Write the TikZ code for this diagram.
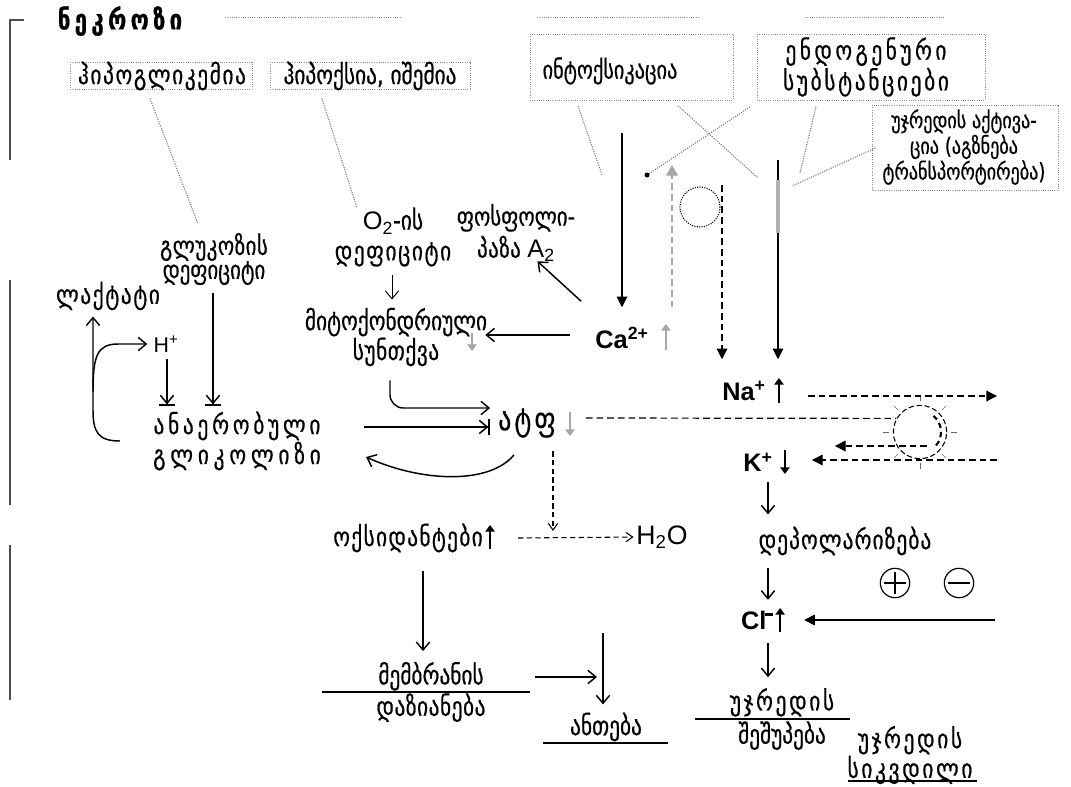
\documentclass[tikz,border=0pt]{standalone}
\usepackage{fontspec}
\setmainfont{DejaVu Sans}[FakeStretch=0.8, FakeBold=0.6]
\newfontfamily\lat{Liberation Sans}
\usetikzlibrary{arrows.meta,calc}
\newcommand\ls[2]{{\addfontfeature{LetterSpace=#1}#2}}
\newcommand\fs[2]{\fontsize{#1}{#2}\selectfont}

\begin{document}
\begin{tikzpicture}[x=0.75pt,y=-0.75pt,
  txt/.style={inner sep=0pt, align=center, font=\fs{20}{18}},
  ion/.style={inner sep=0pt, font=\lat\bfseries\fs{19}{19}},
  arr/.style={line width=1.1pt, -{Straight Barb[length=6pt,width=10pt,line width=1.1pt]}},
  barr/.style={line width=1.1pt, -{Straight Barb[length=6pt,width=10pt,line width=1.1pt]Bar[width=12pt,line width=1.3pt]}},
  thinarr/.style={line width=0.7pt, -{Straight Barb[length=6pt,width=10pt,line width=0.7pt]}},
  tarr/.style={line width=0.8pt, -{Triangle[length=8pt,width=8pt]}},
  darr/.style={line width=0.9pt, dash pattern=on 5pt off 3pt, -{Triangle[length=8pt,width=8pt]}},
  dsm/.style={line width=0.8pt, dash pattern=on 4pt off 2.5pt, -{Straight Barb[length=5pt,width=7pt,line width=0.8pt]}},
  dline/.style={line width=0.9pt, dash pattern=on 5pt off 3pt},
  fat/.style={line width=2pt, -{Triangle[length=5pt,width=7pt]}},
  ptr/.style={black!55, densely dotted, line width=0.8pt},
  frm/.style={black!45, densely dotted, line width=0.7pt},
]
\useasboundingbox (0,0) rectangle (1071,786);

% ---- outer frame remnants
\draw[black!70, line width=0.8pt] (24,20) -- (10,20) -- (10,160);
\draw[black!70, line width=0.8pt] (10,280) -- (10,505);
\draw[black!70, line width=0.8pt] (10,545) -- (10,700);
\draw[frm] (225,17) -- (400,17);
\draw[frm] (537,17) -- (700,17);
\draw[frm] (805,17) -- (945,17);

% ---- cause boxes
\draw[frm] (70,62) rectangle (252,89);
\draw[frm] (270,62) rectangle (470,89);
\draw[frm] (530,34) rectangle (733,100);
\draw[frm] (757,34) rectangle (985,100);
\draw[frm] (872,105) rectangle (1058,190);

% ---- text nodes
\node[txt, font=\bfseries\fs{21}{20}] (title) at (120,21) {\ls{15}{ნეკროზი}};
\node[txt] (hypogly) at (162,76) {\ls{6}{ჰიპოგლიკემია}};
\node[txt] (hypox) at (370,76) {ჰიპოქსია, იშემია};
\node[txt, font=\fs{19}{18}] (intox) at (610,71) {ინტოქსიკაცია};
\node[txt, font=\fs{20}{23}] (endo) at (866,67) {\ls{13}{ენდოგენური}\\\ls{10}{სუბსტანციები}};
\node[txt, font=\fs{17}{17.5}] (act) at (964,147) {უჯრედის აქტივა-\\ცია (აგზნება\\ტრანსპორტირება)};

\node[txt, font=\fs{19.5}{18}] (gluc) at (214,259) {\ls{2}{გლუკოზის}\\დეფიციტი};
\node[txt] (lact) at (108,296) {\ls{6}{ლაქტატი}};
\node[inner sep=0pt, font=\lat\fs{16}{16}] (hplus) at (166,344) {H\textsuperscript{+}};
\node[txt, font=\fs{20}{16.5}] (glyc) at (237,441) {\ls{14}{ანაერობული}\\\ls{18}{გლიკოლიზი}};
\node[txt, font=\fs{20}{19.5}] (mito) at (396,337) {მიტოქონდრიული\\\ls{2}{სუნთქვა}};
\node[txt, font=\fs{20}{23}] (o2) at (393,237) {{\lat\fs{19}{19}O\textsubscript{2}}-ის\\\ls{6}{დეფიციტი}};
\node[txt, font=\fs{19.5}{24}] (pla) at (516,233) {ფოსფოლი-\\\ls{2}{პაზა} {\lat\fs{19}{19}A\textsubscript{2}}};

\node[ion] (ca) at (622,338) {Ca\textsuperscript{2+}};
\node[ion] (na) at (744,391) {Na\textsuperscript{+}};
\node[ion] (k) at (758,462) {K\textsuperscript{+}};
\node[txt, font=\fs{24}{20}] (atp) at (527,423) {\ls{10}{ატფ}};

\node[txt] (oxid) at (408,538) {\ls{5}{ოქსიდანტები}};
\node[inner sep=0pt, font=\lat\fs{20}{20}] (h2o) at (662,537) {H\textsubscript{2}O};
\node[txt, font=\fs{20}{23.5}] (memb) at (431,692) {მემბრანის\\\ls{2}{დაზიანება}};
\node[txt] (infl) at (606,727) {ანთება};

\node[txt] (depol) at (845,541) {\ls{4}{დეპოლარიზება}};
\node[ion] (cl) at (757,620) {Cl\kern-1.2pt\rule[10pt]{6pt}{1.8pt}};
\node[circle, draw, line width=0.9pt, minimum size=22pt, inner sep=0pt] (plus) at (895,583) {};
\node[circle, draw, line width=0.9pt, minimum size=22pt, inner sep=0pt] (minus) at (959,583) {};
\draw[line width=1.4pt] ($(plus.center)+(-11,0)$) -- ($(plus.center)+(11,0)$);
\draw[line width=1.4pt] ($(plus.center)+(0,-11)$) -- ($(plus.center)+(0,11)$);
\draw[line width=1.8pt] ($(minus.center)+(-11,0)$) -- ($(minus.center)+(11,0)$);
\node[txt, font=\fs{20}{25}] (swell) at (782,719) {\ls{10}{უჯრედის}\\შეშუპება};
\node[txt, font=\fs{20}{19.5}] (death) at (910,755) {\ls{10}{უჯრედის}\\\ls{10}{სიკვდილი}};

% fraction rules and underlines
\draw[line width=0.9pt] ($(memb.center)+(-109,0)$) -- ($(memb.center)+(99,0)$);
\draw[line width=0.9pt] ($(infl.center)+(-63,16)$) -- ($(infl.center)+(62,16)$);
\draw[line width=0.9pt] ($(swell.center)+(-87,0)$) -- ($(swell.center)+(68,0)$);
\draw[line width=0.9pt] ($(death.center)+(-62,26)$) -- ($(death.center)+(67,26)$);

% ---- small up/down marks beside labels
\draw[fat, gray!70] ($(ca.east)+(17,12)$) -- ($(ca.east)+(17,-14)$);
\draw[fat, line width=1.3pt, gray!70] ($(mito.center)+(76,-4)$) -- ($(mito.center)+(76,14)$);
\draw[fat, gray!70] ($(atp.center)+(43,-11)$) -- ($(atp.center)+(43,13)$);
\draw[fat] ($(na.east)+(13,12)$) -- ($(na.east)+(13,-13)$);
\draw[fat] ($(k.east)+(12,-12)$) -- ($(k.east)+(12,12)$);
\draw[fat] ($(oxid.east)+(7,11)$) -- ($(oxid.east)+(7,-13)$);
\draw[fat] ($(cl.east)+(7,12)$) -- ($(cl.east)+(7,-12)$);

% ---- pointer lines from the cause boxes
\coordinate (pGl) at (198,224);
\coordinate (pO2) at (357,208);
\coordinate (pIn) at (602,175);
\coordinate (pA) at (758,178);
\coordinate (pB) at (647,175);
\coordinate (pEn) at (800,173);
\coordinate (pAc) at (792,186);
\draw[ptr] ($(hypogly.south)+(-12,8)$) -- (pGl);
\draw[ptr] ($(hypox.south)+(-48,8)$) -- (pO2);
\draw[ptr] ($(intox.south)+(-32,21)$) -- (pIn);
\draw[ptr] ($(intox.south)+(68,21)$) -- (pA);
\draw[ptr] ($(endo.south)+(-116,10)$) -- (pB);
\fill (pB) circle[radius=2.5];
\draw[ptr] ($(endo.south)+(-50,10)$) -- (pEn);
\draw[ptr] ($(act.west)+(-7,1)$) -- (pAc);

% ---- ion fluxes at the membrane
\coordinate (caTop) at (622,133);
\coordinate (caUp) at (672,165);
\coordinate (nTop1) at (722,185);
\coordinate (nTop2) at (778,160);
\draw[tarr] (caTop) -- ($(ca.north)+(0,-20)$);
\draw[line width=0.9pt, gray!70, dash pattern=on 5pt off 3pt, -{Triangle[length=8pt,width=9pt]}] ($(ca.north)+(50,-20)$) -- (caUp);
\draw[densely dotted, line width=0.8pt] (700,207) circle[radius=20];
\draw[darr] (nTop1) -- ($(na.north)+(-22,-22)$);
\draw[tarr] (nTop2) -- ($(na.north)+(34,-22)$);
\draw[gray!60, line width=3pt] (778,180) -- (778,233);

% ---- Na/K pump
\node[circle, draw, dash pattern=on 4pt off 2pt, line width=0.8pt, minimum size=40pt, inner sep=0pt] (pump) at (920,432) {};
\foreach \a in {0,45,...,315}
  \draw[black!60, line width=0.5pt] ($(pump.center)+(\a:31)$) -- ($(pump.center)+(\a:37)$);
\draw[line width=1.6pt, dash pattern=on 4pt off 3pt] ($(pump.center)+(40:21)$) arc[start angle=40, end angle=-50, radius=21];
\coordinate (naOut) at (997,396);
\coordinate (kIn) at (997,460);
\draw[darr] ($(na.east)+(42,5)$) -- (naOut);
\draw[dline] ($(atp.east)+(30,-5)$) -- (pump.150);
\draw[darr] ($(pump.center)+(7,14)$) -- ($(k.east)+(62,-16)$);
\draw[darr] (kIn) -- ($(k.east)+(39,-2)$);

% ---- glycolysis / respiration / ATP
\coordinate (xG) at (213,0);
\coordinate (xH) at (167,0);
\coordinate (xO2) at (392,0);
\draw[barr, shorten <=6pt, shorten >=4pt] (gluc.south -| xG) -- (glyc.north -| xG);
\draw[barr, shorten <=5pt, shorten >=4pt] (hplus.south -| xH) -- (glyc.north -| xH);
\draw[arr] ($(glyc.west)+(-33,0)$) .. controls (98,441) and (93,432) .. (93,410) -- ($(lact.south)+(-15,6)$);
\draw[arr] (93,392) .. controls (93,356) and (97,344) .. (118,344) -- ($(hplus.west)+(-6,0)$);
\draw[thinarr, shorten <=6pt, shorten >=6pt] (o2.south -| xO2) -- (mito.north -| xO2);
\draw[arr] ($(ca.west)+(-25,-3)$) -- ($(mito.east)+(-2,-2)$);
\draw[arr] ($(ca.north west)+(-14,-26)$) -- ($(pla.south east)+(-38,-1)$);
\draw[arr, rounded corners=10pt] ($(mito.south)+(-6,14)$) |- ($(atp.west)+(-8,-15)$);
\draw[barr] ($(glyc.east)+(43,-14)$) -- ($(atp.west)+(-8,4)$);
\draw[arr] ($(atp.south)+(-13,17)$) .. controls +(-25,30) and +(55,25) .. ($(glyc.east)+(45,16)$);

% ---- oxidants and damage
\coordinate (xA) at (553,0);
\coordinate (xO) at (423,0);
\coordinate (inflTop) at (603,633);
\draw[dsm, shorten <=10pt] (atp.south -| xA) -- ($(oxid.east -| xA)+(0,-7)$);
\draw[dsm, shorten >=2pt] ($(oxid.east)+(35,0)$) -- (h2o.west);
\draw[arr, shorten <=14pt, shorten >=8pt] (oxid.south -| xO) -- (memb.north -| xO);
\draw[arr] ($(memb.center)+(104,-15)$) -- ($(memb.center)+(166,-15)$);
\draw[arr, shorten >=6pt] (inflTop) -- (infl.north -| inflTop);

% ---- depolarisation chain
\coordinate (xK) at (768,0);
\coordinate (clIn) at (995,620);
\draw[arr, shorten <=8pt, shorten >=9pt] (k.south -| xK) -- (depol.north -| xK);
\draw[arr, shorten <=9pt, shorten >=8pt] (depol.south -| xK) -- (cl.north -| xK);
\draw[arr, shorten <=10pt, shorten >=8pt] (cl.south -| xK) -- (swell.north -| xK);
\draw[tarr] (clIn) -- ($(cl.east)+(31,0)$);
\end{tikzpicture}
\end{document}
